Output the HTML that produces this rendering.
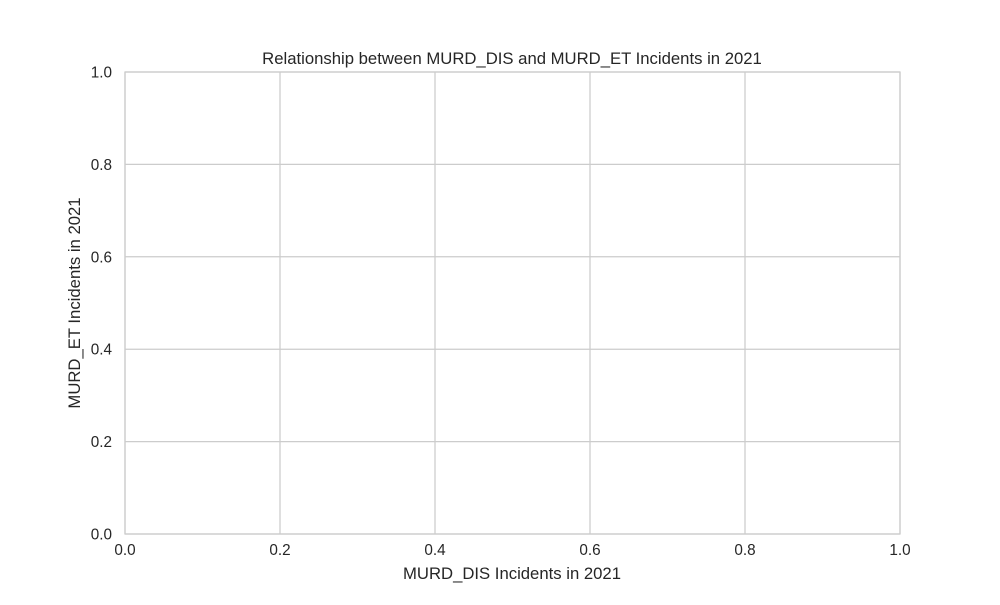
<!DOCTYPE html>
<html>
<head>
<meta charset="utf-8">
<style>
  html, body { margin:0; padding:0; background:#fff; }
  body { width:1000px; height:600px; overflow:hidden; font-family:"Liberation Sans", sans-serif; }
  svg text { font-family:"Liberation Sans", sans-serif; fill:#262626; }
</style>
</head>
<body>
<svg id="chart" width="1000" height="600">
  <rect x="0" y="0" width="1000" height="600" fill="#fff"/>
  <g id="grid"></g>
  <g id="points"></g>
  <rect x="125" y="72" width="775" height="462" fill="none" stroke="#cccccc" stroke-width="1.25"/>
  <g id="xticks"></g>
  <g id="yticks"></g>
  <text x="512" y="64" font-size="16.7" text-anchor="middle">Relationship between MURD_DIS and MURD_ET Incidents in 2021</text>
  <text x="512" y="579" font-size="16.7" text-anchor="middle">MURD_DIS Incidents in 2021</text>
  <text x="0" y="0" font-size="16.7" text-anchor="middle" transform="translate(80,303) rotate(-90)">MURD_ET Incidents in 2021</text>
</svg>
<script>
const xValues = [];
const yValues = [];
const xTickLabels = ["0.0","0.2","0.4","0.6","0.8","1.0"];
const yTickLabels = ["0.0","0.2","0.4","0.6","0.8","1.0"];

const X0 = 125, X1 = 900, Y0 = 534, Y1 = 72;
const xDomain = [0, 1], yDomain = [0, 1];
function xScale(v){ return X0 + (v - xDomain[0]) / (xDomain[1] - xDomain[0]) * (X1 - X0); }
function yScale(v){ return Y0 - (v - yDomain[0]) / (yDomain[1] - yDomain[0]) * (Y0 - Y1); }

const NS = "http://www.w3.org/2000/svg";
const grid = document.getElementById('grid');
const xt = document.getElementById('xticks');
const yt = document.getElementById('yticks');
const pts = document.getElementById('points');

xTickLabels.forEach(function(lab){
  const x = xScale(parseFloat(lab));
  const l = document.createElementNS(NS, 'line');
  l.setAttribute('x1', x); l.setAttribute('x2', x);
  l.setAttribute('y1', Y1); l.setAttribute('y2', Y0);
  l.setAttribute('stroke', '#cccccc'); l.setAttribute('stroke-width', '1.25');
  
  
  grid.appendChild(l);
  const t = document.createElementNS(NS, 'text');
  t.setAttribute('x', x); t.setAttribute('y', 555);
  t.setAttribute('font-size', '15.3'); t.setAttribute('text-anchor', 'middle');
  t.textContent = lab;
  
  
  xt.appendChild(t);
});

yTickLabels.forEach(function(lab){
  const y = yScale(parseFloat(lab));
  const l = document.createElementNS(NS, 'line');
  l.setAttribute('x1', X0); l.setAttribute('x2', X1);
  l.setAttribute('y1', y); l.setAttribute('y2', y);
  l.setAttribute('stroke', '#cccccc'); l.setAttribute('stroke-width', '1.25');
  
  
  grid.appendChild(l);
  const t = document.createElementNS(NS, 'text');
  t.setAttribute('x', 112); t.setAttribute('y', y + 5.5);
  t.setAttribute('font-size', '15.3'); t.setAttribute('text-anchor', 'end');
  t.textContent = lab;
  
  
  yt.appendChild(t);
});

xValues.forEach(function(xv, i){
  const c = document.createElementNS(NS, 'circle');
  c.setAttribute('cx', xScale(xv)); c.setAttribute('cy', yScale(yValues[i]));
  c.setAttribute('r', 4); c.setAttribute('fill', '#4c72b0');
  
  
  pts.appendChild(c);
});
</script>
</body>
</html>
